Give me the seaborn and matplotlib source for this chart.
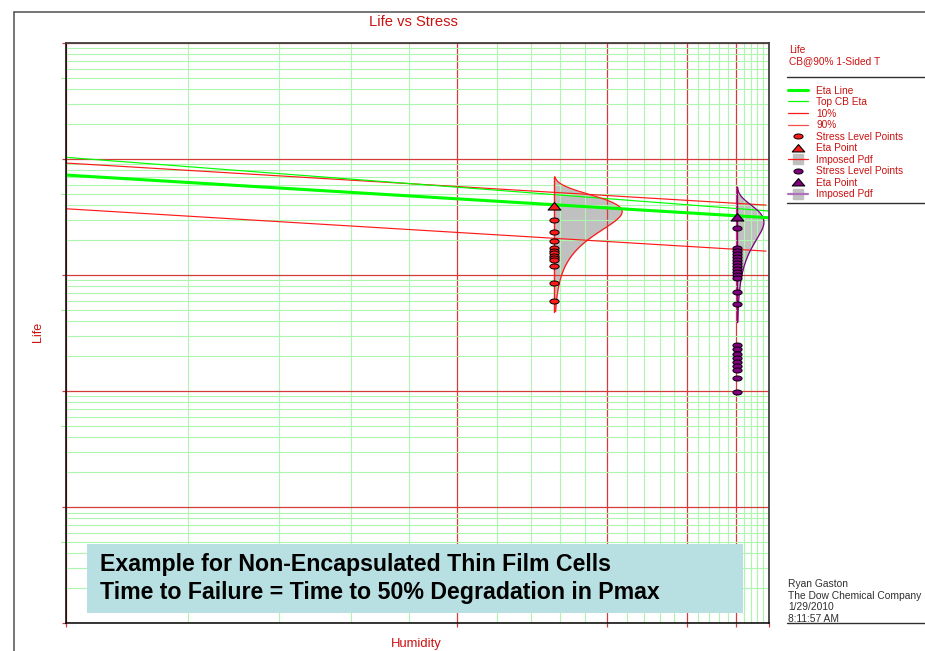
import numpy as np
import matplotlib
matplotlib.use("Agg")
import matplotlib.pyplot as plt
from matplotlib.lines import Line2D
from matplotlib.patches import Rectangle
from matplotlib.path import Path
from matplotlib.markers import MarkerStyle
from matplotlib.ticker import FixedLocator, LogLocator, NullFormatter
import seaborn as sns

sns.set_theme(style="white")
plt.rcParams["font.family"] = ["Liberation Sans", "DejaVu Sans"]

# ---------------------------------------------------------------- data
# humidity stress levels of the two test groups
stress_levels = [56.2, 105.7]

# failure times (life) observed at each stress level
life_level1 = [2962, 2348, 1971, 1727, 1627, 1548, 1473, 1401, 1347, 1207, 861, 597]
life_level2 = [2527, 1709, 1610, 1517, 1430, 1347, 1269, 1196, 1126, 1061, 1000, 942,
               710, 566, 252, 230, 211, 194, 179, 165, 153, 129, 98]

# Weibull scale (eta) at each stress level and the common shape parameter
eta_points = [3934, 3194]
beta = 3.3

# life-stress relationship lines (humidity end points, life at those end points)
line_humidity = [25, 125]
eta_line = [7278, 3119]
top_cb_eta = [10343, 3566]
pct_humidity = [25, 122.7]
life_90pct = [9237, 4012]
life_10pct = [3729, 1610]

# humidity grid: major every 20, minor every 4
major_humidity = [25, 45, 65, 85, 105, 125]
minor_humidity = [h for h in range(29, 125, 4) if h not in major_humidity]

# ---------------------------------------------------------------- styles
RED = "#ff1a1a"
DKRED = "#cc1111"
LIME = "#00ff00"
PURPLE = "#800080"
GRAY = "#c0c0c0"
MAJOR_GRID = "#d43c3c"
MINOR_GRID = "#aef5ae"

W, H = 925, 651


def fx(px):
    return px / W


def fy(py):
    return 1 - py / H


def recip(h):
    with np.errstate(divide="ignore"):
        return -1.0 / np.asarray(h, dtype=float)


def recip_inv(u):
    with np.errstate(divide="ignore"):
        return -1.0 / np.asarray(u, dtype=float)


fig = plt.figure(figsize=(W / 100, H / 100), dpi=100)
ax = fig.add_axes([fx(66.3), fy(623.3), (769.3 - 66.3) / W, (623.3 - 43) / H])
ax.set_facecolor("white")

ax.set_xscale("function", functions=(recip, recip_inv))
ax.set_yscale("log")
ax.set_xlim(25, 125)
ax.set_ylim(1, 1e5)

ax.xaxis.set_major_locator(FixedLocator(major_humidity))
ax.xaxis.set_minor_locator(FixedLocator(minor_humidity))
ax.yaxis.set_major_locator(LogLocator(base=10, numticks=10))
ax.yaxis.set_minor_locator(LogLocator(base=10, subs=np.arange(2, 10), numticks=20))
for axis in (ax.xaxis, ax.yaxis):
    axis.set_major_formatter(NullFormatter())
    axis.set_minor_formatter(NullFormatter())

ax.set_axisbelow("line")
ax.grid(which="minor", color=MINOR_GRID, lw=0.8)
ax.grid(which="major", color=MAJOR_GRID, lw=0.9)
ax.tick_params(which="minor", length=0)
ax.tick_params(which="major", direction="out", length=3.2, width=0.9, color=MAJOR_GRID,
               left=True, bottom=True, top=False, right=False)

for side in ("left", "bottom"):
    ax.spines[side].set_color("black")
    ax.spines[side].set_linewidth(1.1)
for side in ("top", "right"):
    ax.spines[side].set_color("#404040")
    ax.spines[side].set_linewidth(1.3)

# short outer tick stubs at 5 x 10^n
for v in [5, 50, 500, 5000, 50000]:
    ax.plot([-0.007, 0], [v, v], transform=ax.get_yaxis_transform(),
            color="#9cee9c", lw=0.8, clip_on=False)

# ---------------------------------------------------------------- imposed pdfs
pdf_width = [0.003095, 0.001215]   # peak width in reciprocal-humidity units
pdf_colors = [RED, PURPLE]
q_lo, q_hi = 0.001, 0.999
for h0, eta, w, col in zip(stress_levels, eta_points, pdf_width, pdf_colors):
    t_lo = eta * (-np.log(1 - q_lo)) ** (1 / beta)
    t_hi = eta * (-np.log(1 - q_hi)) ** (1 / beta)
    t = np.geomspace(t_lo, t_hi, 400)
    z = t / eta
    f = (beta / eta) * z ** (beta - 1) * np.exp(-z ** beta)
    u = recip(h0) + w * f / f.max()
    h_curve = recip_inv(u)
    ax.fill_betweenx(t, h0, h_curve, color=GRAY, lw=0, zorder=1.2)
    ax.plot(h_curve, t, color=col, lw=0.9, zorder=2.2)
    ax.plot([h0, h0], [t_lo, t_hi], color=col, lw=1.0, zorder=2.2)

# ---------------------------------------------------------------- lines
sns.lineplot(x=pct_humidity, y=life_10pct, color=RED, lw=0.85, ax=ax,
             estimator=None, sort=False, zorder=2)
sns.lineplot(x=pct_humidity, y=life_90pct, color=RED, lw=0.85, ax=ax,
             estimator=None, sort=False, zorder=2)
sns.lineplot(x=line_humidity, y=top_cb_eta, color=LIME, lw=0.85, ax=ax,
             estimator=None, sort=False, zorder=2.1)
sns.lineplot(x=line_humidity, y=eta_line, color=LIME, lw=2.2, ax=ax,
             estimator=None, sort=False, zorder=2.3)

# ---------------------------------------------------------------- points
theta = np.linspace(0, 2 * np.pi, 41)
ellipse = MarkerStyle(Path(np.column_stack([np.cos(theta), 0.55 * np.sin(theta)]), closed=True))
triangle = MarkerStyle(Path([(-1, -0.55), (1, -0.55), (0, 0.62), (-1, -0.55)], closed=True))

for h0, lives, eta, col in zip(stress_levels, [life_level1, life_level2], eta_points,
                               [RED, PURPLE]):
    sns.scatterplot(x=[h0] * len(lives), y=lives, marker=ellipse, s=44, color=col,
                    edgecolor="black", linewidth=0.7, ax=ax, zorder=4, legend=False)
    sns.scatterplot(x=[h0], y=[eta], marker=triangle, s=85, color=col,
                    edgecolor="black", linewidth=0.8, ax=ax, zorder=4.5, legend=False)

ax.set_xlabel("")
ax.set_ylabel("")

# ---------------------------------------------------------------- annotation box
fig.add_artist(Rectangle((fx(87), fy(612.7)), fx(743.3) - fx(87), fy(544) - fy(612.7),
                         transform=fig.transFigure, facecolor="#b8dfe2", edgecolor="none",
                         zorder=5))
fig.text(fx(100), fy(565), "Example for Non-Encapsulated Thin Film Cells",
         fontsize=16.7, fontweight="bold", color="black", va="center", ha="left", zorder=6)
fig.text(fx(100), fy(592.7), "Time to Failure = Time to 50% Degradation in Pmax",
         fontsize=16.7, fontweight="bold", color="black", va="center", ha="left", zorder=6)

# ---------------------------------------------------------------- titles
fig.text(fx(413), fy(21.5), "Life vs Stress", color=DKRED, fontsize=10.6,
         ha="center", va="center")
fig.text(fx(416.5), fy(644), "Humidity", color=DKRED, fontsize=9.4,
         ha="center", va="center")
fig.text(fx(38), fy(332), "Life", color=DKRED, fontsize=9.0, rotation=90,
         ha="center", va="center")

# ---------------------------------------------------------------- legend
fig.text(fx(789), fy(50), "Life", color=DKRED, fontsize=7.3, ha="left", va="center")
fig.text(fx(789), fy(61.5), "CB@90% 1-Sided T", color=DKRED, fontsize=7.3,
         ha="left", va="center")

handles = [
    Line2D([], [], color=LIME, lw=2.2),
    Line2D([], [], color=LIME, lw=0.9),
    Line2D([], [], color=RED, lw=0.9),
    Line2D([], [], color="#f05050", lw=0.9),
    Line2D([], [], ls="none", marker=ellipse, ms=6.6, mfc=RED, mec="black", mew=0.7),
    Line2D([], [], ls="none", marker=triangle, ms=9.0, mfc=RED, mec="black", mew=0.8),
    (Line2D([], [], ls="none", marker="s", ms=6.5, mfc=GRAY, mec=GRAY),
     Line2D([], [], color=RED, lw=0.9)),
    Line2D([], [], ls="none", marker=ellipse, ms=6.6, mfc=PURPLE, mec="black", mew=0.7),
    Line2D([], [], ls="none", marker=triangle, ms=9.0, mfc=PURPLE, mec="black", mew=0.8),
    (Line2D([], [], ls="none", marker="s", ms=6.5, mfc=GRAY, mec=GRAY),
     Line2D([], [], color="#b070c0", lw=1.6)),
]
labels = ["Eta Line", "Top CB Eta", "10%", "90%", "Stress Level Points", "Eta Point",
          "Imposed Pdf", "Stress Level Points", "Eta Point", "Imposed Pdf"]
fig.legend(handles, labels, loc="upper left", bbox_to_anchor=(fx(787.5), fy(85.5)),
           frameon=False, fontsize=7.3, labelcolor=DKRED, handlelength=2.0,
           handletextpad=0.85, labelspacing=0.15, borderaxespad=0, borderpad=0)

# separators and author block
for py in (77.3, 203.3, 623.3):
    fig.add_artist(Line2D([fx(787), fx(925)], [fy(py), fy(py)], color="#303030", lw=1.0,
                          transform=fig.transFigure))
for py, txt in zip([584.3, 596.0, 607.3, 618.7],
                   ["Ryan Gaston", "The Dow Chemical Company", "1/29/2010", "8:11:57 AM"]):
    fig.text(fx(788), fy(py), txt, color="#303030", fontsize=7.4, ha="left", va="center")

# page frame
fig.add_artist(Line2D([fx(14.3), fx(14.3)], [fy(12.3), 0], color="#505050", lw=1.1,
                      transform=fig.transFigure))
fig.add_artist(Line2D([fx(14.3), 1], [fy(12.3), fy(12.3)], color="#505050", lw=1.1,
                      transform=fig.transFigure))

fig.savefig("out.png", dpi=100)
